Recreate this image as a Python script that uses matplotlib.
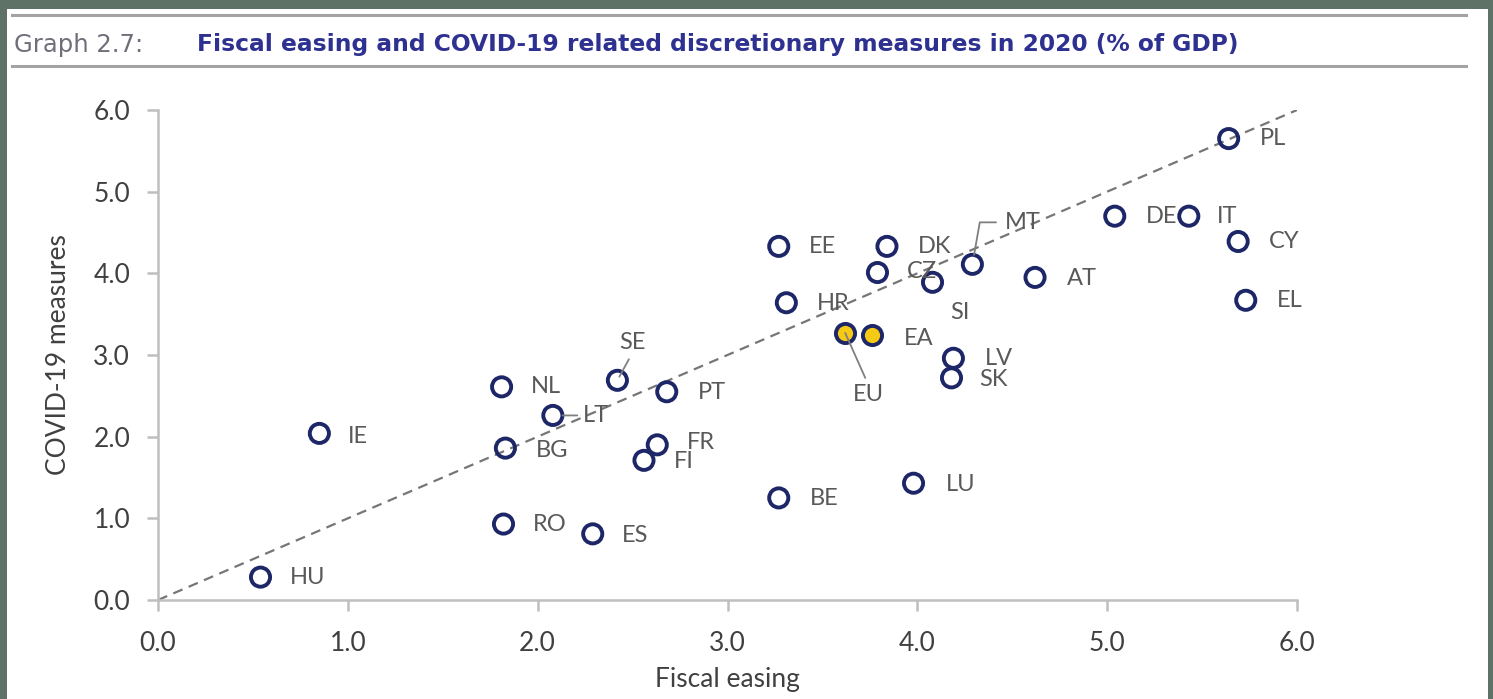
import matplotlib
matplotlib.use("Agg")
import matplotlib.pyplot as plt
from matplotlib.patches import Rectangle
from matplotlib.lines import Line2D

# ------------------ DATA ------------------

countries = ["HU", "IE", "NL", "BG", "RO", "LT", "ES", "SE", "PT", "FR",
             "FI", "BE", "EE", "HR", "CZ", "DK", "SI", "MT", "LV", "SK",
             "LU", "AT", "DE", "IT", "CY", "EL", "PL"]
fiscal_easing = [0.54, 0.85, 1.81, 1.83, 1.82, 2.08, 2.29, 2.42, 2.68, 2.63,
                 2.56, 3.27, 3.27, 3.31, 3.79, 3.84, 4.08, 4.29, 4.19, 4.18,
                 3.98, 4.62, 5.04, 5.43, 5.69, 5.73, 5.64]
covid_measures = [0.28, 2.04, 2.61, 1.86, 0.93, 2.26, 0.81, 2.69, 2.55, 1.90,
                  1.71, 1.25, 4.33, 3.64, 4.01, 4.33, 3.89, 4.11, 2.96, 2.72,
                  1.43, 3.95, 4.70, 4.70, 4.39, 3.67, 5.65]

aggregates = ["EU", "EA"]
agg_fiscal = [3.62, 3.76]
agg_covid = [3.27, 3.24]

ticks = [0, 1, 2, 3, 4, 5, 6]

# label placement (offset in pixels from marker, ha, leader line style)
label_pos = {
    "HU": (29, 0, "left", None), "IE": (29, -3, "left", None),
    "NL": (29, 0, "left", None), "BG": (30, -2, "left", None),
    "RO": (29, 0, "left", None), "LT": (30, 0, "left", "straight"),
    "ES": (29, -2, "left", None), "SE": (15, 38, "center", "up"),
    "PT": (31, -1, "left", None), "FR": (30, 2, "left", None),
    "FI": (30, -1, "left", None), "BE": (31, -1, "left", None),
    "EE": (30, 0, "left", None), "HR": (31, -1, "left", None),
    "CZ": (29, 1, "left", None), "DK": (31, 0, "left", None),
    "SI": (27, -30, "center", None), "MT": (32, 42, "left", "angle"),
    "LV": (31, 0, "left", None), "SK": (28, -2, "left", None),
    "LU": (32, -1, "left", None), "AT": (32, -1, "left", None),
    "DE": (31, 0, "left", None), "IT": (28, 0, "left", None),
    "CY": (31, 0, "left", None), "EL": (31, 0, "left", None),
    "PL": (31, 0, "left", None),
    "EU": (23, -62, "center", "down"), "EA": (32, -3, "left", None),
}

BG = "#5e7268"
NAVY = "#1d2768"
GREY_TXT = "#595959"
YELLOW = "#f6c915"

# ------------------ FIGURE ------------------

fig = plt.figure(figsize=(14.93, 6.99), dpi=100, facecolor=BG)
fig.patches.append(Rectangle((7 / 1493, 0), 1481 / 1493, 1 - 9 / 699,
                             transform=fig.transFigure, facecolor="white",
                             edgecolor="none", zorder=-5))
for yy in (1 - 15 / 699, 1 - 66 / 699):
    fig.lines.append(Line2D([12 / 1493, 1466 / 1493], [yy, yy],
                            transform=fig.transFigure, color="#a3a3a3", lw=2.2,
                            zorder=-4))

fig.text(14 / 1493, 1 - 45 / 699, "Graph 2.7:", color="#6f6f7a",
         fontsize=17.5, va="center", ha="left", family="DejaVu Sans")
fig.text(197 / 1493, 1 - 45 / 699,
         "Fiscal easing and COVID-19 related discretionary measures in 2020 (% of GDP)",
         color="#2e3190", fontsize=16.8, fontweight="bold", va="center", ha="left",
         family="DejaVu Sans")

ax = fig.add_axes([158 / 1493, 99 / 699, 1139 / 1493, 490 / 699])
ax.set_xlim(0, 6)
ax.set_ylim(0, 6)
ax.set_facecolor("none")

ax.plot([0, 6], [0, 6], color="#767676", lw=1.6, ls=(0, (4.5, 3)), zorder=1)

ax.scatter(fiscal_easing, covid_measures, s=190, facecolors="none",
           edgecolors=NAVY, linewidths=2.8, zorder=3)
ax.scatter(agg_fiscal, agg_covid, s=190, facecolors=YELLOW,
           edgecolors=NAVY, linewidths=2.8, zorder=3)

all_names = countries + aggregates
all_x = fiscal_easing + agg_fiscal
all_y = covid_measures + agg_covid
for name, x, y in zip(all_names, all_x, all_y):
    dx, dy, ha, leader = label_pos[name]
    arrow = None
    if leader == "angle":
        arrow = dict(arrowstyle="-", color="#7f7f7f", lw=1.3, relpos=(0, 0.5),
                     connectionstyle="angle,angleA=0,angleB=80,rad=0",
                     shrinkA=4, shrinkB=7)
    elif leader == "straight":
        arrow = dict(arrowstyle="-", color="#7f7f7f", lw=1.3, relpos=(0, 0.5),
                     shrinkA=2, shrinkB=7)
    elif leader == "up":
        arrow = dict(arrowstyle="-", color="#7f7f7f", lw=1.3, relpos=(0.5, 0),
                     shrinkA=3, shrinkB=3)
    elif leader == "down":
        arrow = dict(arrowstyle="-", color="#7f7f7f", lw=1.3, relpos=(0.5, 1),
                     shrinkA=3, shrinkB=0)
    ax.annotate(name, (x, y), xytext=(dx, dy), textcoords="offset pixels",
                ha=ha, va="center", fontsize=17, color=GREY_TXT,
                family="Lato", arrowprops=arrow, zorder=4)

ax.set_xticks(ticks)
ax.set_yticks(ticks)
ax.set_xticklabels([f"{t:.1f}" for t in ticks])
ax.set_yticklabels([f"{t:.1f}" for t in ticks])
for lab in ax.get_xticklabels() + ax.get_yticklabels():
    lab.set_family("Lato")
ax.tick_params(axis="both", labelsize=19, labelcolor="#404040",
               color="#bfbfbf", width=1.8, length=8, direction="out")
ax.tick_params(axis="x", pad=14)
ax.tick_params(axis="y", pad=12)

for side in ("top", "right"):
    ax.spines[side].set_visible(False)
for side in ("left", "bottom"):
    ax.spines[side].set_color("#bfbfbf")
    ax.spines[side].set_linewidth(1.8)

ax.set_ylabel("COVID-19 measures", fontsize=19, color="#404040",
              family="Lato", labelpad=16)
ax.set_xlabel("Fiscal easing", fontsize=19, color="#404040",
              family="Lato", labelpad=8)

fig.savefig("out.png", dpi=100, facecolor=BG)
